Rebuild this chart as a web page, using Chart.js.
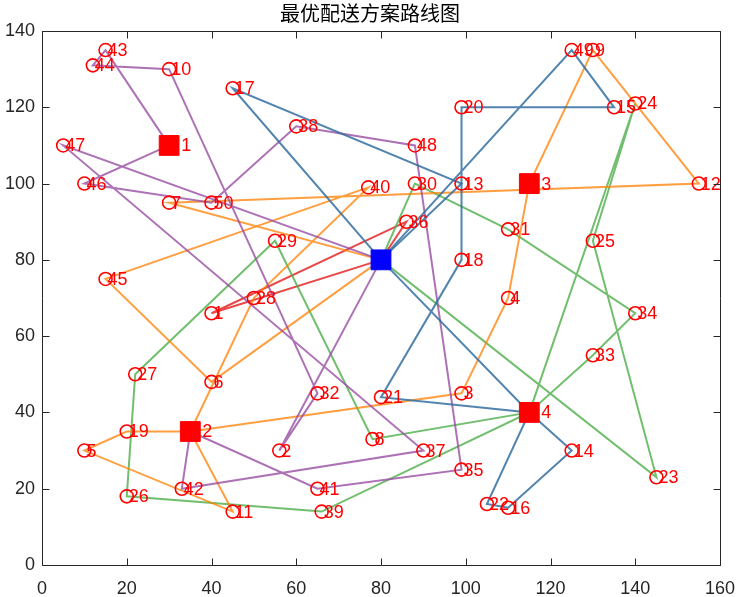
<!DOCTYPE html>
<html>
<head>
<meta charset="utf-8">
<script src="https://cdn.jsdelivr.net/npm/chart.js@4.4.0/dist/chart.umd.min.js"></script>
<style>
body{margin:0;background:#fff}
#wrap{width:740px;height:597px}
</style>
</head>
<body>
<div id="wrap"><canvas id="chart" width="740" height="597"></canvas></div>
<script>
const chartTitle = '最优配送方案路线图';

// depot (blue square) and charging stations (red squares 1..4)
const depotX = 80, depotY = 80;
const stationX = [30, 35, 115, 115];
const stationY = [110, 35, 100, 40];

// customers 1..50
const custX = [40, 56, 99, 110, 10, 40, 30, 78, 130, 30,
               45, 155, 99, 125, 135, 110, 45, 99, 20, 99,
               80, 105, 145, 140, 130, 20, 22, 50, 55, 88,
               110, 65, 130, 140, 99, 86, 90, 60, 66, 77,
               65, 33, 15, 12, 15, 10, 5, 88, 125, 40];
const custY = [66, 30, 45, 70, 30, 48, 95, 33, 135, 130,
               14, 100, 100, 30, 120, 15, 125, 80, 35, 120,
               44, 16, 23, 121, 85, 18, 50, 70, 85, 100,
               88, 45, 55, 66, 25, 90, 30, 115, 14, 99,
               20, 20, 135, 131, 75, 100, 110, 110, 135, 95];

const xTicks = [0, 20, 40, 60, 80, 100, 120, 140, 160];
const yTicks = [0, 20, 40, 60, 80, 100, 120, 140];

// routes: 'D' = depot, 'S1'..'S4' = stations, numbers = customers
const routesBlue = [
  ['D', 17, 13, 'D'],
  ['D', 49, 15, 20, 18, 21, 'S4', 14, 16, 22, 'S4', 'D']
];
const routesPurple = [
  ['D', 2, 32, 10, 44, 43, 'S1', 46, 50, 38, 48, 35, 41, 'S2', 42, 37, 47, 'D']
];
const routesOrange = [
  ['D', 7, 12, 9, 'S3', 4, 3, 'S2', 19, 5, 11, 'S2', 28, 40, 45, 6, 'D']
];
const routesGreen = [
  ['D', 30, 31, 34, 33, 'S4', 8, 29, 27, 26, 39, 'S4', 24, 25, 23, 'D']
];
const routesRed = [
  ['D', 36, 1, 'D']
];

function pt(id){
  if(id === 'D') return {x: depotX, y: depotY};
  if(typeof id === 'string'){
    const k = parseInt(id.slice(1)) - 1;
    return {x: stationX[k], y: stationY[k]};
  }
  return {x: custX[id-1], y: custY[id-1]};
}

const datasets = [];
datasets.push({
  data: [{x: depotX, y: depotY}],
  pointStyle: 'rect', pointRadius: 14, pointBorderWidth: 1,
  backgroundColor: '#0000ff', borderColor: '#0000ff', order: 0
});
datasets.push({
  data: stationX.map((x, i) => ({x: x, y: stationY[i]})),
  pointStyle: 'rect', pointRadius: 14, pointBorderWidth: 1,
  backgroundColor: '#ff0000', borderColor: '#ff0000', order: 0
});
datasets.push({
  data: custX.map((x, i) => ({x: x, y: custY[i]})),
  pointStyle: 'circle', pointRadius: 6.5, pointBorderWidth: 1.6,
  backgroundColor: 'rgba(0,0,0,0)', borderColor: '#ff0000', order: 1
});

function addRoutes(list, color){
  list.forEach(r => {
    datasets.push({
      data: r.map(pt), showLine: true, pointRadius: 0,
      borderColor: color, borderWidth: 2, order: 3
    });
  });
}
addRoutes(routesBlue, 'rgba(50,110,160,0.85)');
addRoutes(routesPurple, 'rgba(152,78,163,0.8)');
addRoutes(routesOrange, 'rgba(255,127,0,0.75)');
addRoutes(routesGreen, 'rgba(77,175,74,0.8)');
addRoutes(routesRed, 'rgba(228,26,28,0.8)');

const boxPlugin = {
  id: 'box',
  afterDatasetsDraw(chart){
    const ctx = chart.ctx, a = chart.chartArea;
    const xs = chart.scales.x, ys = chart.scales.y;
    ctx.save();
    // labels
    ctx.font = '18px "Liberation Sans", Arial, sans-serif';
    ctx.fillStyle = '#ff0000';
    ctx.textAlign = 'left';
    ctx.textBaseline = 'middle';
    custX.forEach((x, i) => {
      ctx.fillText(String(i + 1), xs.getPixelForValue(x) + 2, ys.getPixelForValue(custY[i]) + 1);
    });
    stationX.forEach((x, i) => {
      ctx.fillText(String(i + 1), xs.getPixelForValue(x) + 12, ys.getPixelForValue(stationY[i]) + 1);
    });
    // box and inward ticks
    ctx.strokeStyle = '#262626';
    ctx.lineWidth = 1;
    const L = Math.round(a.left) + 0.5, R = Math.round(a.right) + 0.5;
    const T = Math.round(a.top) + 0.5, B = Math.round(a.bottom) + 0.5;
    ctx.beginPath();
    ctx.rect(L, T, R - L, B - T);
    xTicks.forEach(v => {
      const p = Math.round(xs.getPixelForValue(v)) + 0.5;
      ctx.moveTo(p, B); ctx.lineTo(p, B - 7);
      ctx.moveTo(p, T); ctx.lineTo(p, T + 7);
    });
    yTicks.forEach(v => {
      const p = Math.round(ys.getPixelForValue(v)) + 0.5;
      ctx.moveTo(L, p); ctx.lineTo(L + 7, p);
      ctx.moveTo(R, p); ctx.lineTo(R - 7, p);
    });
    ctx.stroke();
    // title
    ctx.fillStyle = '#000000';
    ctx.textAlign = 'center';
    ctx.textBaseline = 'middle';
    ctx.font = '20px "Noto Sans CJK SC", sans-serif';
    ctx.fillText(chartTitle, chart.width / 2, 13);
    ctx.restore();
  }
};

new Chart(document.getElementById('chart').getContext('2d'), {
  type: 'scatter',
  data: {datasets: datasets},
  options: {
    responsive: false,
    animation: false,
    layout: {padding: {top: 31, right: 20, left: 0, bottom: 0}},
    plugins: {legend: {display: false}, tooltip: {enabled: false}, title: {display: false}},
    scales: {
      x: {
        type: 'linear', min: 0, max: 160,
        afterFit: s => { s.height = 32; s.paddingRight = 0; s.paddingLeft = 0; },
        afterBuildTicks: s => { s.ticks = xTicks.map(v => ({value: v})); },
        grid: {display: false, drawTicks: false},
        border: {display: false},
        ticks: {color: '#262626', font: {size: 18, family: '"Liberation Sans", Arial, sans-serif'}, padding: 13, maxRotation: 0, autoSkip: false}
      },
      y: {
        type: 'linear', min: 0, max: 140,
        afterFit: s => { s.width = 42; s.paddingTop = 0; s.paddingBottom = 0; },
        afterBuildTicks: s => { s.ticks = yTicks.map(v => ({value: v})); },
        grid: {display: false, drawTicks: false},
        border: {display: false},
        ticks: {color: '#262626', font: {size: 18, family: '"Liberation Sans", Arial, sans-serif'}, padding: 7, autoSkip: false}
      }
    }
  },
  plugins: [boxPlugin]
});
</script>
</body>
</html>
